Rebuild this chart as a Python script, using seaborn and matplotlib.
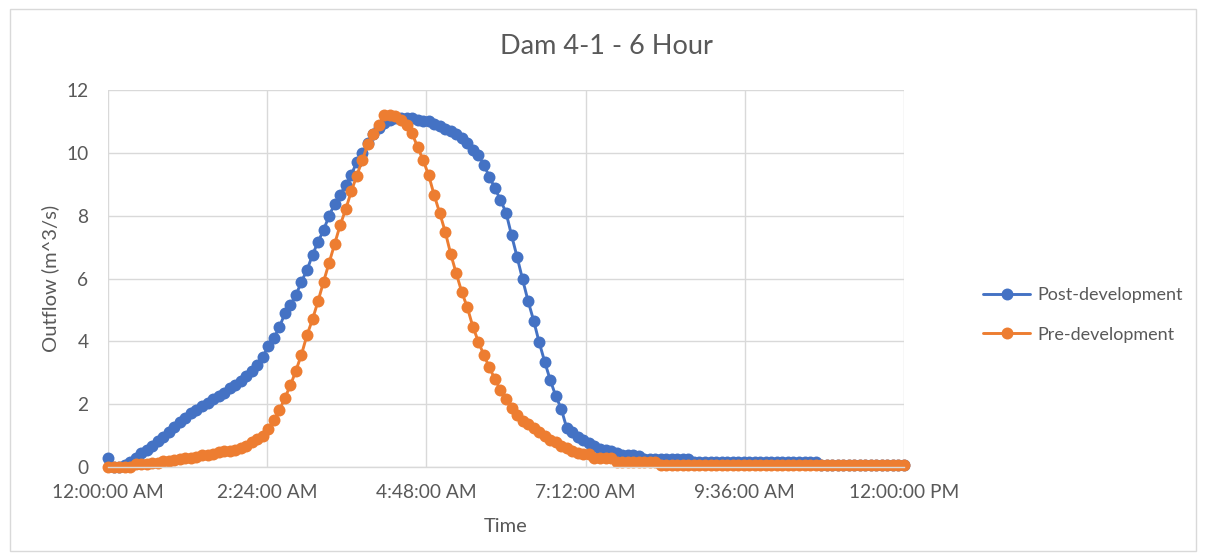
import matplotlib
matplotlib.use("Agg")
import matplotlib.pyplot as plt
from matplotlib.lines import Line2D
from matplotlib.patches import Rectangle
import pandas as pd
import seaborn as sns

# Time axis: minutes after midnight, one reading every 5 minutes
minutes = list(range(0, 725, 5))

# Outflow in m^3/s
post_development = [
    0.30, 0.00, 0.00, 0.07, 0.17, 0.30, 0.43, 0.55, 0.67, 0.82,
    0.95, 1.12, 1.28, 1.42, 1.56, 1.71, 1.83, 1.93, 2.03, 2.15,
    2.26, 2.36, 2.50, 2.62, 2.74, 2.90, 3.07, 3.25, 3.50, 3.85,
    4.10, 4.45, 4.89, 5.16, 5.47, 5.90, 6.27, 6.75, 7.17, 7.54,
    8.00, 8.37, 8.66, 8.98, 9.30, 9.70, 9.98, 10.30, 10.60, 10.80,
    10.95, 11.04, 11.10, 11.10, 11.10, 11.10, 11.05, 11.00, 11.00, 10.92,
    10.85, 10.75, 10.68, 10.60, 10.46, 10.30, 10.09, 9.93, 9.61, 9.24,
    8.87, 8.50, 8.10, 7.38, 6.69, 5.97, 5.28, 4.66, 3.97, 3.35,
    2.77, 2.26, 1.85, 1.23, 1.10, 0.95, 0.85, 0.75, 0.68, 0.56,
    0.53, 0.52, 0.45, 0.38, 0.38, 0.37, 0.36, 0.27, 0.26, 0.26,
    0.26, 0.26, 0.26, 0.26, 0.26, 0.26, 0.16, 0.16, 0.16, 0.16,
    0.16, 0.16, 0.16, 0.16, 0.16, 0.16, 0.16, 0.16, 0.16, 0.16,
    0.16, 0.16, 0.16, 0.16, 0.16, 0.16, 0.16, 0.16, 0.16, 0.07,
    0.07, 0.07, 0.07, 0.07, 0.07, 0.07, 0.07, 0.07, 0.07, 0.07,
    0.07, 0.07, 0.07, 0.07, 0.07,
]
pre_development = [
    0.00, 0.00, 0.00, 0.00, 0.00, 0.10, 0.10, 0.10, 0.12, 0.13,
    0.20, 0.20, 0.22, 0.25, 0.30, 0.30, 0.32, 0.38, 0.38, 0.40,
    0.47, 0.50, 0.50, 0.55, 0.60, 0.68, 0.78, 0.90, 1.00, 1.20,
    1.50, 1.80, 2.20, 2.60, 3.07, 3.58, 4.20, 4.70, 5.28, 5.90,
    6.50, 7.10, 7.70, 8.20, 8.77, 9.27, 9.78, 10.27, 10.60, 10.88,
    11.20, 11.20, 11.18, 11.05, 10.88, 10.62, 10.19, 9.77, 9.29, 8.66,
    8.09, 7.49, 6.78, 6.16, 5.57, 5.08, 4.47, 3.99, 3.56, 3.17,
    2.79, 2.45, 2.16, 1.87, 1.65, 1.48, 1.36, 1.25, 1.10, 0.98,
    0.87, 0.78, 0.68, 0.62, 0.50, 0.45, 0.42, 0.40, 0.28, 0.28,
    0.28, 0.28, 0.15, 0.15, 0.15, 0.15, 0.15, 0.15, 0.15, 0.15,
    0.07, 0.07, 0.07, 0.07, 0.07, 0.07, 0.07, 0.07, 0.07, 0.07,
    0.07, 0.07, 0.07, 0.07, 0.07, 0.07, 0.07, 0.07, 0.07, 0.07,
    0.07, 0.07, 0.07, 0.07, 0.07, 0.07, 0.07, 0.07, 0.07, 0.07,
    0.07, 0.07, 0.07, 0.07, 0.07, 0.07, 0.07, 0.07, 0.07, 0.07,
    0.07, 0.07, 0.07, 0.07, 0.07,
]

series_names = ["Post-development", "Pre-development"]
series_colors = ["#4472C4", "#ED7D31"]

time_ticks = [0, 144, 288, 432, 576, 720]
time_labels = ["12:00:00 AM", "2:24:00 AM", "4:48:00 AM",
               "7:12:00 AM", "9:36:00 AM", "12:00:00 PM"]
outflow_ticks = [0, 2, 4, 6, 8, 10, 12]

title_text = "Dam 4-1 - 6 Hour"
x_label = "Time"
y_label = "Outflow (m^3/s)"

TEXT = "#595959"
GRID = "#D9D9D9"
MARKER_SIZE = 8.6
LINE_WIDTH = 2.1

sns.set_theme(style="white")
plt.rcParams["font.family"] = ["Lato", "DejaVu Sans"]

W, H = 1205, 560
fig = plt.figure(figsize=(W / 100, H / 100), dpi=100)
fig.patch.set_facecolor("white")

# chart frame
fig.add_artist(Rectangle((10 / W, 1 - 551 / H), 1186 / W, 542 / H,
                         transform=fig.transFigure, fill=False,
                         edgecolor=GRID, linewidth=1.0))

ax = fig.add_axes([108 / W, 1 - 467 / H, 796 / W, 377 / H])

df = pd.DataFrame({
    "Time": minutes + minutes,
    "Outflow": post_development + pre_development,
    "Series": [series_names[0]] * len(minutes) + [series_names[1]] * len(minutes),
})

sns.lineplot(data=df, x="Time", y="Outflow", hue="Series",
             hue_order=series_names, palette=series_colors,
             estimator=None, marker="o", markersize=MARKER_SIZE,
             markeredgewidth=0, linewidth=LINE_WIDTH, legend=False, ax=ax)

ax.set_xlim(0, 720)
ax.set_ylim(0, 12)
ax.set_xticks(time_ticks)
ax.set_xticklabels(time_labels)
ax.set_yticks(outflow_ticks)
ax.grid(True, color=GRID, linewidth=1.0)
ax.set_axisbelow(True)
for side in ["top", "right", "left"]:
    ax.spines[side].set_visible(False)
ax.spines["bottom"].set_color(GRID)
ax.spines["bottom"].set_linewidth(1.0)
for line in ax.lines:
    line.set_clip_on(False)

ax.tick_params(axis="both", length=0, labelsize=13.8, labelcolor=TEXT)
ax.tick_params(axis="x", pad=12)
ax.tick_params(axis="y", pad=14)

ax.set_xlabel(x_label, fontsize=14.5, color=TEXT)
ax.set_ylabel(y_label, fontsize=14.5, color=TEXT)
ax.xaxis.set_label_coords(0.5, (467 - 526) / 377, transform=ax.transAxes)
ax.yaxis.set_label_coords((50 - 108) / 796, 0.5, transform=ax.transAxes)
ax.xaxis.label.set_va("center")
ax.yaxis.label.set_va("center")

fig.text(606 / W, 1 - 46 / H, title_text, ha="center", va="center",
         fontsize=19.5, color=TEXT)

handles = [Line2D([0], [0], color=c, linewidth=LINE_WIDTH, marker="o",
                  markersize=MARKER_SIZE, markeredgewidth=0) for c in series_colors]
leg = fig.legend(handles, series_names, loc="center left",
                 bbox_to_anchor=(976 / W, 1 - 315 / H), frameon=False,
                 fontsize=13, handlelength=2.6, handletextpad=0.4,
                 labelspacing=1.3, borderaxespad=0)
for t in leg.get_texts():
    t.set_color(TEXT)

fig.savefig("out.png", dpi=100, facecolor="white")
